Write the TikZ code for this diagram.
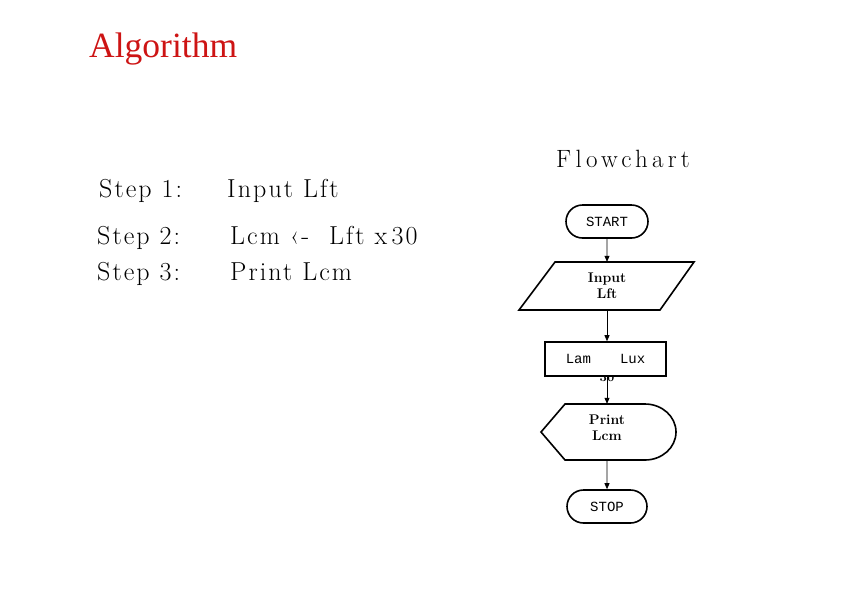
\documentclass[tikz,border=0pt]{standalone}
\usepackage{fontspec}
\usetikzlibrary{shapes.misc,arrows.meta}
\newfontfamily\titlefont{Liberation Serif}
\newfontfamily\flowmono{Liberation Mono}
\newfontfamily\stepfont[LetterSpace=8]{Latin Modern Roman}
\newfontfamily\flowfont[LetterSpace=17]{Latin Modern Roman}
\definecolor{titlered}{RGB}{205,20,20}
\begin{document}
\begin{tikzpicture}[x=1pt,y=-1pt,
  steptext/.style={anchor=base west, inner sep=0pt, font=\stepfont\fontsize{26}{30}\selectfont},
  shapeline/.style={line width=1.6pt, line join=miter},
  term/.style={rounded rectangle, draw, line width=1.6pt, minimum width=82pt, minimum height=33pt, inner sep=0pt, font=\flowmono\fontsize{14}{16}\selectfont},
  boldtext/.style={inner sep=0pt, align=center, font=\bfseries\fontsize{14}{16}\selectfont},
  conn/.style={line width=0.8pt, -{Triangle[length=6pt,width=5pt]}}]
\useasboundingbox (0,0) rectangle (842,595);
% title
\node[anchor=base west, inner sep=0pt, text=titlered, font=\titlefont\fontsize{35.5}{40}\selectfont] (title) at (89,57) {Algorithm};
% steps
\node[steptext] (s1) at (99,197) {Step 1:};
\node[steptext] (s2) at (97,244) {Step 2:};
\node[steptext] (s3) at (97,280) {Step 3:};
\node[steptext] (a1) at (227,197) {Input Lft};
\node[steptext] (a2) at (230,244) {Lcm ‹-\ \ Lft x\,30};
\node[steptext] (a3) at (230,280) {Print Lcm};
% flowchart title
\node[anchor=base west, inner sep=0pt, font=\flowfont\fontsize{25}{28}\selectfont] (ft) at (556,167) {Flowchart};
% flowchart
\node[term] (start) at (607,221.5) {START};
\node[boldtext, minimum width=100pt, minimum height=48pt] (in) at (607,286) {Input\\Lft};
\draw[shapeline] (555,262) -- (694,262) -- (660,310) -- (519,310) -- cycle;
\node[inner sep=0pt, font=\bfseries\fontsize{13}{15}\selectfont] (n30) at (607,377.5) {30};
\node[draw, line width=1.6pt, fill=white, minimum width=121pt, minimum height=34pt, inner sep=0pt, font=\flowmono\fontsize{14}{16}\selectfont] (calc) at (605.5,359) {Lam\hspace{29pt}Lux};
\node[inner sep=0pt, minimum width=100pt, minimum height=56pt] (pr) at (607,432) {};
\node[boldtext] (prt) at (607,428) {Print\\Lcm};
\draw[shapeline] (541,432) -- (565,404) -- (645,404) arc[start angle=-90, end angle=90, x radius=31, y radius=28] -- (565,460) -- cycle;
\node[term, minimum width=80pt] (stop) at (607,506.5) {STOP};
% connectors
\draw[conn] (start) -- (in);
\draw[conn] (in) -- (calc.north -| in.south);
\draw[conn] (calc.south -| pr.north) -- (pr);
\draw[conn] (pr) -- (stop);
\end{tikzpicture}
\end{document}
